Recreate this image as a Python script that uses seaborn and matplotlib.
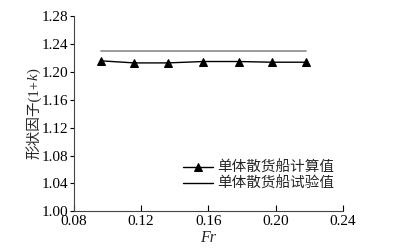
import matplotlib
matplotlib.use("Agg")
import matplotlib.pyplot as plt
import seaborn as sns
import pandas as pd

fr_calc = [0.096, 0.116, 0.136, 0.157, 0.178, 0.198, 0.218]
k_calc = [1.216, 1.213, 1.213, 1.215, 1.215, 1.214, 1.214]
fr_exp = [0.096, 0.218]
k_exp = [1.230, 1.230]
xticks = [0.08, 0.12, 0.16, 0.20, 0.24]
yticks = [1.00, 1.04, 1.08, 1.12, 1.16, 1.20, 1.24, 1.28]
label_calc = "单体散货船计算值"
label_exp = "单体散货船试验值"

sns.set_theme(style="ticks")
fam = ['Liberation Serif', 'Noto Sans CJK SC']
plt.rcParams['font.family'] = fam

df_calc = pd.DataFrame({"Fr": fr_calc, "k": k_calc})
df_exp = pd.DataFrame({"Fr": fr_exp, "k": k_exp})

fig, ax = plt.subplots(figsize=(3.94, 2.5), dpi=100)
fig.subplots_adjust(left=0.187, right=0.87, top=0.935, bottom=0.155)

sns.lineplot(data=df_calc, x="Fr", y="k", ax=ax, color="black", lw=1.0,
             marker="^", markersize=6, markeredgecolor="black", label=label_calc)
sns.lineplot(data=df_exp, x="Fr", y="k", ax=ax, color="#8a8a8a", lw=1.2,
             label=label_exp)

ax.set_xlim(0.08, 0.24)
ax.set_ylim(1.00, 1.28)
ax.set_xticks(xticks)
ax.set_xticklabels([f"{v:.2f}" for v in xticks])
ax.set_yticks(yticks)
ax.set_yticklabels([f"{v:.2f}" for v in yticks])
ax.tick_params(axis='x', direction='in', length=4, width=0.8, labelsize=11, colors='black', pad=3)
ax.tick_params(axis='y', direction='out', length=3, width=0.8, labelsize=11, colors='black', pad=1)
for s in ['top', 'right']:
    ax.spines[s].set_visible(False)
for s in ['left', 'bottom']:
    ax.spines[s].set_linewidth(0.8)
    ax.spines[s].set_color('#444444')

ax.set_xlabel("Fr", fontsize=11.5, style='italic', labelpad=1)
ax.set_ylabel("")

# y label: 形状因子(1+k) with italic k, built from chained text pieces
t1 = ax.text(-0.148, 0.27, "形状因子(1+", transform=ax.transAxes, rotation=90,
             ha='center', va='bottom', fontsize=10.5, family=fam)
t2 = ax.annotate("k", xy=(0.5, 1.0), xycoords=t1, rotation=90, ha='center',
                 va='bottom', fontsize=10.5, style='italic', family=fam)
t3 = ax.annotate(")", xy=(0.5, 1.0), xycoords=t2, rotation=90, ha='center',
                 va='bottom', fontsize=10.5, family=fam)

leg = ax.legend(loc="lower right", bbox_to_anchor=(1.0, 0.06), frameon=False,
                fontsize=10.5, handlelength=2.0, handletextpad=0.3,
                labelspacing=0.1, borderaxespad=0.2)
leg.get_lines()[1].set_color("black")
leg.get_lines()[1].set_linewidth(1.0)

fig.savefig("out.png", dpi=100)
